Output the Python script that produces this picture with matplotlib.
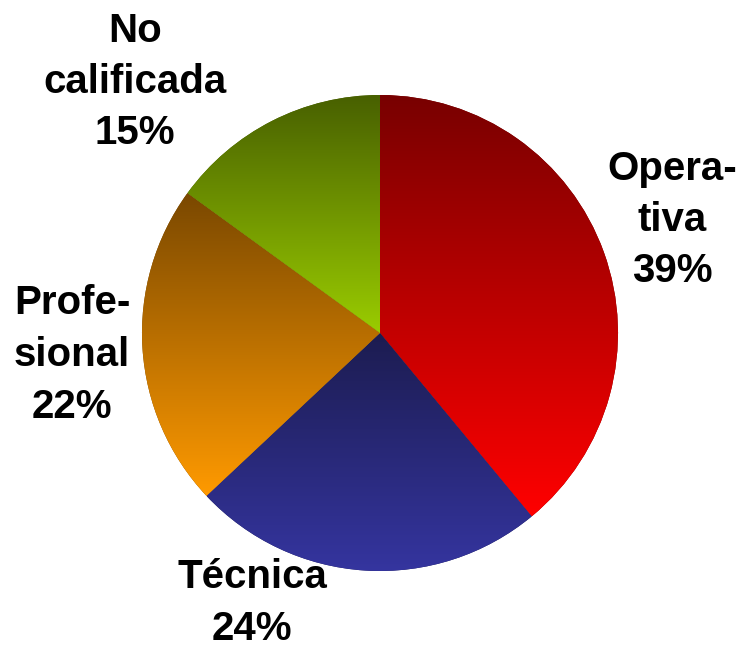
import numpy as np
import matplotlib
matplotlib.use("Agg")
import matplotlib.pyplot as plt
from matplotlib.colors import LinearSegmentedColormap

labels = ["Opera-\ntiva\n39%", "Técnica\n24%", "Profe-\nsional\n22%", "No\ncalificada\n15%"]
values = [39, 24, 22, 15]
# top colour, bottom colour of each slice gradient
tops = ["#780000", "#1c1c50", "#7a4800", "#486000"]
bottoms = ["#ff0000", "#3535a0", "#ff9a00", "#9acc00"]
label_pos = [(672, 430), (252, 47), (72, 295), (135, 568)]

fig = plt.figure(figsize=(7.49, 6.5), dpi=100)
ax = fig.add_axes([0, 0, 1, 1])

wedges, _ = ax.pie(values, startangle=90, counterclock=False,
                   center=(380, 317), radius=238, frame=True,
                   wedgeprops=dict(linewidth=0))
ax.set_aspect("auto")
ax.axis("off")

grad = np.linspace(0, 1, 256).reshape(-1, 1)
for w, c0, c1 in zip(wedges, tops, bottoms):
    v = w.get_path().vertices
    x0, x1 = v[:, 0].min(), v[:, 0].max()
    y0, y1 = v[:, 1].min(), v[:, 1].max()
    cmap = LinearSegmentedColormap.from_list("g", [c1, c0])
    im = ax.imshow(grad, cmap=cmap, extent=(x0, x1, y0, y1), origin="lower",
                   aspect="auto", zorder=w.get_zorder() + 0.1)
    im.set_clip_path(w)
    w.set_facecolor(c0)

ax.set_xlim(0, 749)
ax.set_ylim(0, 650)

for txt, (x, y) in zip(labels, label_pos):
    ax.text(x, y, txt, ha="center", va="center", fontsize=29,
            fontweight="bold", family="Liberation Sans", linespacing=1.45)

fig.savefig("out.png", dpi=100)
